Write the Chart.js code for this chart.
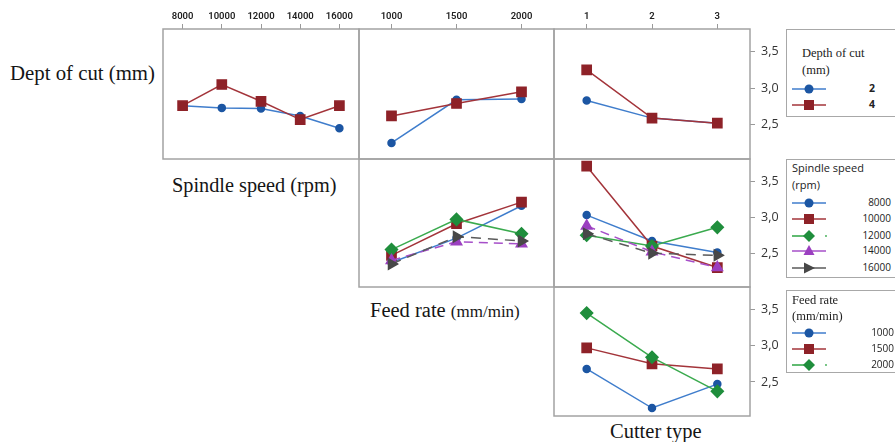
<!DOCTYPE html>
<html>
<head>
<meta charset="utf-8">
<script src="https://cdn.jsdelivr.net/npm/chart.js@4.4.1/dist/chart.umd.min.js"></script>
<style>
    body { margin: 0; width: 895px; height: 442px; background: #fff; position: relative; overflow: hidden; font-family: 'Open Sans', sans-serif; }
    canvas { position: absolute; }
    .lbl { position: absolute; font-family: 'Liberation Serif', serif; color: #151515; white-space: nowrap; line-height: 1; }
    .leg { position: absolute; left: 786px; width: 130px; border: 1.5px solid #a8a8a8; box-sizing: border-box; background: #fff; }
    .leg div, .leg svg { position: absolute; white-space: nowrap; line-height: 1; }
</style>
</head>
<body>

<div class="lbl" style="left:10px; top:63px; font-size:20.8px;">Dept of cut (mm)</div>
<div class="lbl" style="left:172px; top:175px; font-size:20.3px;">Spindle speed (rpm)</div>
<div class="lbl" style="left:370px; top:300px; font-size:20.5px;">Feed rate <span style="font-size:17px">(mm/min)</span></div>
<div class="lbl" style="left:610px; top:421px; font-size:20.5px;">Cutter type</div>

<script>
// categories
var spindleSpeeds = ['8000', '10000', '12000', '14000', '16000'];
var feedRates = ['1000', '1500', '2000'];
var cutterTypes = ['1', '2', '3'];
var depths = ['2', '4'];
var yTicks = [2.5, 3.0, 3.5];
var yMin = 2.03, yMax = 3.81;

// Depth of cut rows
var depth2BySpeed = [2.76, 2.73, 2.72, 2.62, 2.45];
var depth4BySpeed = [2.76, 3.05, 2.82, 2.57, 2.76];
var depth2ByFeed = [2.25, 2.84, 2.85];
var depth4ByFeed = [2.62, 2.79, 2.95];
var depth2ByCutter = [2.83, 2.59, 2.52];
var depth4ByCutter = [3.25, 2.59, 2.52];

// Spindle speed rows
var s8000ByFeed = [2.37, 2.71, 3.16];
var s10000ByFeed = [2.47, 2.91, 3.21];
var s12000ByFeed = [2.55, 2.97, 2.77];
var s14000ByFeed = [2.40, 2.66, 2.63];
var s16000ByFeed = [2.35, 2.73, 2.67];
var s8000ByCutter = [3.03, 2.67, 2.51];
var s10000ByCutter = [3.71, 2.60, 2.30];
var s12000ByCutter = [2.75, 2.60, 2.86];
var s14000ByCutter = [2.88, 2.52, 2.30];
var s16000ByCutter = [2.77, 2.50, 2.47];

// Feed rate row
var f1000ByCutter = [2.68, 2.14, 2.47];
var f1500ByCutter = [2.97, 2.75, 2.68];
var f2000ByCutter = [3.45, 2.84, 2.37];

// look of each series (minitab order)
var styles = [
    { line: '#3f7dcc', point: '#1c56a3', shape: 'circle', radius: 3.5, rot: 0, dash: [] },
    { line: '#a3343a', point: '#8e2228', shape: 'rect', radius: 6.5, rot: 0, dash: [] },
    { line: '#3aaa4e', point: '#1f8e3c', shape: 'rectRot', radius: 6, rot: 0, dash: [] },
    { line: '#a64fc9', point: '#9b3fc0', shape: 'triangle', radius: 6, rot: 0, dash: [9, 6] },
    { line: '#5a5a5a', point: '#484848', shape: 'triangle', radius: 6, rot: 90, dash: [10, 7] }
];

var colX = [163, 359, 554, 750];
var rowY = [29, 159, 287, 416];
var m = 2;
var axisW = 45;

Chart.defaults.font.family = "'Open Sans', sans-serif";

var framePlugin = {
    id: 'frame',
    beforeDatasetsDraw: function (chart) {
        var a = chart.chartArea;
        var ctx = chart.ctx;
        ctx.save();
        ctx.strokeStyle = '#a3a3a3';
        ctx.lineWidth = 1.5;
        ctx.strokeRect(a.left, a.top, a.right - a.left, a.bottom - a.top);
        ctx.restore();
    }
};

function makePanel(r, c, labels, series) {
    var top = (r === 0 ? 0 : rowY[r]) - m;
    var w = colX[c + 1] - colX[c] + 2 * m + (c === 2 ? axisW : 0);
    var h = rowY[r + 1] - top + m;
    var cv = document.createElement('canvas');
    cv.width = w;
    cv.height = h;
    cv.style.left = (colX[c] - m) + 'px';
    cv.style.top = top + 'px';
    document.body.appendChild(cv);

    var ds = [];
    for (var i = 0; i < series.length; i++) {
        var st = styles[i];
        ds.push({
            data: series[i],
            borderColor: st.line,
            backgroundColor: st.point,
            pointBackgroundColor: st.point,
            pointBorderColor: st.point,
            pointStyle: st.shape,
            pointRadius: st.radius,
            pointRotation: st.rot,
            borderWidth: 1.5,
            borderDash: st.dash,
            tension: 0,
            fill: false,
            clip: false,
            order: -i
        });
    }

    var showX = r === 0;
    var showY = c === 2;

    new Chart(cv, {
        type: 'line',
        data: { labels: labels, datasets: ds },
        options: {
            responsive: false,
            animation: false,
            events: [],
            layout: { padding: m, autoPadding: false },
            plugins: { legend: { display: false }, tooltip: { enabled: false } },
            scales: {
                x: {
                    type: 'category',
                    offset: true,
                    position: 'top',
                    display: showX,
                    grid: { drawOnChartArea: false, tickLength: 5, color: '#999' },
                    border: { display: false },
                    ticks: { padding: 2, maxRotation: 0, autoSkip: false, color: '#222', font: { family: 'Roboto', size: 9.5, weight: '600' } },
                    afterFit: function (s) {
                        if (!showX) return;
                        s.height = 29; s.paddingLeft = 0; s.paddingRight = 0;
                    }
                },
                y: {
                    min: yMin,
                    max: yMax,
                    position: 'right',
                    display: showY,
                    grid: { drawOnChartArea: false, tickLength: 5, color: '#999' },
                    border: { display: false },
                    ticks: {
                        padding: 6, color: '#333', font: { size: 12.5 },
                        callback: function (v) { return Number(v).toFixed(1).replace('.', ','); }
                    },
                    afterBuildTicks: function (s) { s.ticks = yTicks.map(function (v) { return { value: v }; }); },
                    afterFit: function (s) {
                        if (!showY) return;
                        s.width = axisW; s.paddingTop = 0; s.paddingBottom = 0;
                    }
                }
            }
        },
        plugins: [framePlugin]
    });
}

makePanel(0, 0, spindleSpeeds, [depth2BySpeed, depth4BySpeed]);
makePanel(0, 1, feedRates, [depth2ByFeed, depth4ByFeed]);
makePanel(0, 2, cutterTypes, [depth2ByCutter, depth4ByCutter]);
makePanel(1, 1, feedRates, [s8000ByFeed, s10000ByFeed, s12000ByFeed, s14000ByFeed, s16000ByFeed]);
makePanel(1, 2, cutterTypes, [s8000ByCutter, s10000ByCutter, s12000ByCutter, s14000ByCutter, s16000ByCutter]);
makePanel(2, 2, cutterTypes, [f1000ByCutter, f1500ByCutter, f2000ByCutter]);

// legends
function markerSvg(st, idx) {
    var cx = 17, cy = 7, shape = '';
    var f = 'fill="' + st.point + '"';
    if (st.shape === 'circle') shape = '<circle cx="' + cx + '" cy="' + cy + '" r="4.5" ' + f + '/>';
    else if (st.shape === 'rect') shape = '<rect x="' + (cx - 5) + '" y="' + (cy - 5) + '" width="10" height="10" ' + f + '/>';
    else if (st.shape === 'rectRot') shape = '<polygon points="17,1 23,7 17,13 11,7" ' + f + '/>';
    else if (st.rot === 90) shape = '<polygon points="23,7 12,1.5 12,12.5" ' + f + '/>';
    else shape = '<polygon points="17,1 22.5,11 11.5,11" ' + f + '/>';
    var line = '<line x1="0" x2="34" y1="7" y2="7" stroke="' + st.line + '" stroke-width="1.6"/>';
    if (idx === 2) line = '<line x1="0" x2="17" y1="7" y2="7" stroke="' + st.line + '" stroke-width="1.6"/><circle cx="34" cy="7" r="0.9" fill="' + st.line + '"/>';
    return line + shape;
}

function makeLegend(top, height, titleLines, titleStyle, titleLeft, titleTops, labels, rowTops, labelRight, labelStyle) {
    var box = document.createElement('div');
    box.className = 'leg';
    box.style.top = top + 'px';
    box.style.height = height + 'px';
    var html = '';
    for (var i = 0; i < titleLines.length; i++) {
        html += '<div style="left:' + titleLeft + 'px; top:' + titleTops[i] + 'px;' + titleStyle + '">' + titleLines[i] + '</div>';
    }
    for (var j = 0; j < labels.length; j++) {
        html += '<svg style="left:4.5px; top:' + (rowTops[j] - 7) + 'px;" width="36" height="14">' + markerSvg(styles[j], j) + '</svg>';
        html += '<div style="right:' + labelRight + 'px; top:' + (rowTops[j] - 6) + 'px;' + labelStyle + '">' + labels[j] + '</div>';
    }
    box.innerHTML = html;
    document.body.appendChild(box);
}

makeLegend(29, 88, ['Depth of cut', '(mm)'], "font-family:'Liberation Serif',serif; font-size:12.5px; color:#222;",
    15, [17, 34], depths, [59, 75], 40, "font-family:'Open Sans',sans-serif; font-size:10.5px; font-weight:700; color:#222;");
makeLegend(159, 119, ['Spindle speed', '(rpm)'], "font-family:'Open Sans',sans-serif; font-size:11px; color:#222;",
    5, [2, 19], spindleSpeeds, [43, 59, 76, 91, 108], 24, "font-family:'Open Sans',sans-serif; font-size:10px; color:#222;");
makeLegend(290, 83, ['Feed rate', '(mm/min)'], "font-family:'Liberation Serif',serif; font-size:12.5px; color:#222;",
    5, [3, 19], feedRates, [42, 58, 74], 21, "font-family:'Open Sans',sans-serif; font-size:10px; color:#222;");
</script>
</body>
</html>
